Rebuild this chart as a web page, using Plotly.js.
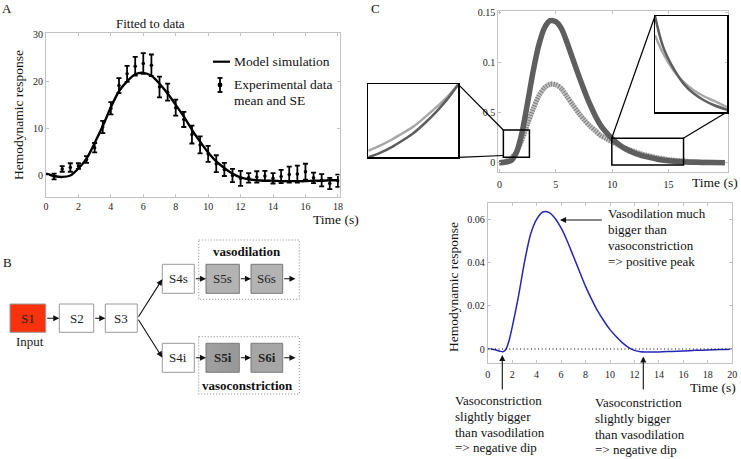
<!DOCTYPE html>
<html><head><meta charset="utf-8">
<script src="https://cdn.plot.ly/plotly-3.0.1.min.js"></script>
<style>html,body{margin:0;padding:0;background:#fff}#chart{width:741px;height:459px}</style>
</head><body><div id="chart"></div>
<script>
// ---------- Panel A: fitted to data ----------
const timeA = [0.5,1,1.5,2,2.5,3,3.5,4,4.5,5,5.5,6,6.5,7,7.5,8,8.5,9,9.5,10,10.5,11,11.5,12,12.5,13,13.5,14,14.5,15,15.5,16,16.5,17,17.5,18];
const expMean = [-0.2,1.4,1.7,2.0,3.4,5.9,10.3,14.3,19.1,21.6,23.2,23.8,23.4,18.8,17.7,14.4,11.9,8.7,6.5,4.6,2.5,1.3,0.0,-0.6,-0.5,-0.3,-0.1,-0.6,-0.2,0.2,0.3,0.8,-0.5,-1.0,-1.7,-1.1];
const expSE = [0.6,0.6,0.9,0.6,0.7,1.0,1.3,1.3,1.6,1.7,2.0,2.2,2.3,2.2,1.8,1.7,1.6,1.9,1.8,1.7,1.8,1.4,1.4,1.6,1.0,1.2,1.1,1.1,1.4,1.7,1.8,1.7,1.1,1.3,1.2,1.3];
const modelT = [0,0.5,1,1.5,2,2.5,3,3.5,4,4.5,5,5.5,6,6.5,7,7.5,8,8.5,9,9.5,10,10.5,11,11.5,12,12.5,13,13.5,14,14.5,15,15.5,16,16.5,17,17.5,18];
const modelY = [0.4,-0.1,-0.3,0.0,1.5,3.6,6.9,10.5,14.5,17.9,20.0,21.5,21.8,21.2,19.5,17.4,15.0,12.5,9.7,7.2,4.9,3.0,1.6,0.4,-0.4,-0.8,-1.0,-1.1,-1.1,-1.2,-1.2,-1.2,-1.2,-1.1,-1.1,-1.0,-1.0];
const ticksA_x = [0,2,4,6,8,10,12,14,16,18];
const ticksA_y = [0,10,20,30];

// ---------- Panel C (top): vasodilation vs vasoconstriction ----------
const timeC = [0,0.5,1,1.5,2,2.5,3,3.5,4,4.5,5,5.5,6,6.5,7,7.5,8,8.5,9,9.5,10,10.5,11,11.5,12,12.5,13,14,15,16,17,18,19,20];
const dilation = [0,0.0005,0.002,0.010,0.030,0.060,0.092,0.118,0.135,0.142,0.141,0.134,0.120,0.104,0.088,0.073,0.059,0.047,0.037,0.030,0.024,0.019,0.015,0.012,0.0095,0.0075,0.006,0.0035,0.002,0.001,0.0005,0.0002,0.0001,0];
const constriction = [0,0.001,0.004,0.011,0.023,0.039,0.054,0.067,0.075,0.0785,0.078,0.074,0.066,0.058,0.050,0.043,0.037,0.032,0.027,0.024,0.021,0.018,0.015,0.013,0.011,0.009,0.0075,0.005,0.003,0.002,0.001,0.0005,0.0002,0.0001];
const ticksCtop_x = [0,5,10,15];
const ticksCtop_y = [0,0.05,0.1,0.15];
const ticksCtop_ytext = ['0','0.5','0.1','0.15'];

// insets (normalised zoom views)
const insetL_x = [0,0.13,0.26,0.38,0.5,0.63,0.76,0.88,1];
const insetL_dil = [0,0.06,0.14,0.23,0.33,0.47,0.63,0.8,1];
const insetL_con = [0.09,0.16,0.24,0.33,0.42,0.55,0.69,0.83,1];
const insetR_x = [0,0.113,0.255,0.396,0.538,0.679,0.821,1];
const insetR_dil = [1,0.679,0.456,0.296,0.192,0.122,0.07,0.024];
const insetR_con = [0.8,0.61,0.436,0.314,0.226,0.164,0.115,0.052];

// ---------- Panel C (bottom): net hemodynamic response ----------
const diffT = [0,0.5,1,1.25,1.5,1.75,2,2.5,3,3.5,4,4.5,5,5.5,6,6.5,7,7.5,8,8.5,9,9.5,10,10.5,11,11.5,12,12.5,13,14,15,16,17,18,19,20];
const diffY = [0,-0.0002,-0.0010,-0.0012,0.0,0.004,0.010,0.024,0.040,0.053,0.060,0.0634,0.0632,0.0605,0.056,0.050,0.043,0.036,0.029,0.023,0.0175,0.013,0.009,0.0058,0.003,0.0008,-0.0006,-0.0012,-0.0013,-0.0013,-0.0011,-0.0009,-0.0006,-0.0004,-0.0002,-0.0001];
const ticksCbot_x = [0,2,4,6,8,10,12,14,16,18,20];
const ticksCbot_y = [0,0.02,0.04,0.06];

// ---------- Panel B: model diagram labels ----------
const stageLabels = ['S1','S2','S3','S4s','S5s','S6s','S4i','S5i','S6i'];

// ---------- helpers ----------
const W = 741, H = 459;
const P = x => x / W;
const Q = y => 1 - y / H;
const SERIF = "'Liberation Serif', 'Times New Roman', Times, serif";
const FRAME = '#c2c2c2';

function axisStyle(extra) {
  return Object.assign({
    showline: true, linecolor: FRAME, linewidth: 1, mirror: 'ticks',
    ticks: 'inside', ticklen: 3, tickcolor: FRAME, tickwidth: 1,
    showgrid: false, zeroline: false,
    tickfont: {family: SERIF, size: 10, color: '#222'}
  }, extra);
}
function insetAxis(extra) {
  return Object.assign({
    showline: true, linecolor: '#000', linewidth: 1.5, mirror: true,
    ticks: '', showticklabels: false, showgrid: false, zeroline: false,
    range: [0, 1], fixedrange: true
  }, extra);
}

const traces = [
  // Panel A
  {x: modelT, y: modelY, xaxis: 'x', yaxis: 'y', mode: 'lines', type: 'scatter',
   line: {color: '#000', width: 2.4, shape: 'spline', smoothing: 0.8}, hoverinfo: 'skip'},
  {x: timeA, y: expMean, xaxis: 'x', yaxis: 'y', mode: 'markers', type: 'scatter',
   marker: {color: '#000', size: 3.5},
   error_y: {type: 'data', array: expSE, visible: true, color: '#000', thickness: 1.8, width: 2.5}},
  // Panel C top
  {x: timeC, y: constriction, xaxis: 'x2', yaxis: 'y2', mode: 'lines', type: 'scatter',
   line: {color: '#c4c4c4', width: 5, shape: 'spline', smoothing: 0.8}},
  {x: timeC, y: constriction, xaxis: 'x2', yaxis: 'y2', mode: 'lines', type: 'scatter',
   line: {color: '#7a7a7a', width: 5, shape: 'spline', smoothing: 0.8, dash: '1px,1.6px'}},
  {x: timeC, y: dilation, xaxis: 'x2', yaxis: 'y2', mode: 'lines', type: 'scatter',
   line: {color: '#5e5e5e', width: 5.5, shape: 'spline', smoothing: 0.8}},
  // left inset
  {x: insetL_x, y: insetL_con, xaxis: 'x4', yaxis: 'y4', mode: 'lines', type: 'scatter',
   line: {color: '#a8a8a8', width: 2.5, shape: 'spline'}},
  {x: insetL_x, y: insetL_dil, xaxis: 'x4', yaxis: 'y4', mode: 'lines', type: 'scatter',
   line: {color: '#5e5e5e', width: 2.5, shape: 'spline'}},
  // right inset
  {x: insetR_x, y: insetR_con, xaxis: 'x5', yaxis: 'y5', mode: 'lines', type: 'scatter',
   line: {color: '#a8a8a8', width: 2.5, shape: 'spline'}},
  {x: insetR_x, y: insetR_dil, xaxis: 'x5', yaxis: 'y5', mode: 'lines', type: 'scatter',
   line: {color: '#5e5e5e', width: 2.5, shape: 'spline'}},
  // Panel C bottom
  {x: diffT, y: diffY, xaxis: 'x3', yaxis: 'y3', mode: 'lines', type: 'scatter',
   line: {color: '#2626b4', width: 1.5, shape: 'spline', smoothing: 0.7}}
];

const shapes = [];
const annotations = [];
const images = [];

function pline(x0, y0, x1, y1, color, width, dash) {
  shapes.push({type: 'line', xref: 'paper', yref: 'paper', x0: P(x0), y0: Q(y0), x1: P(x1), y1: Q(y1),
    line: {color: color || '#000', width: width || 1, dash: dash || 'solid'}});
}
function prect(x0, y0, x1, y1, fill, lineColor, width, dash) {
  shapes.push({type: 'rect', xref: 'paper', yref: 'paper', x0: P(x0), y0: Q(y0), x1: P(x1), y1: Q(y1),
    fillcolor: fill || 'rgba(0,0,0,0)', line: {color: lineColor || '#999', width: width === undefined ? 1 : width, dash: dash || 'solid'}});
}
function text(t, x, y, opts) {
  opts = opts || {};
  annotations.push({text: t, xref: 'paper', yref: 'paper', x: P(x), y: Q(y),
    xanchor: opts.xanchor || 'center', yanchor: opts.yanchor || 'middle', showarrow: false,
    textangle: opts.angle || 0,
    font: {family: SERIF, size: opts.size || 13, color: opts.color || '#111'}});
}
function arrow(tailx, taily, tipx, tipy) {
  annotations.push({text: '', xref: 'paper', yref: 'paper', x: P(tipx), y: Q(tipy),
    axref: 'pixel', ayref: 'pixel', ax: tailx - tipx, ay: taily - tipy,
    showarrow: true, arrowhead: 2, arrowsize: 1.1, arrowwidth: 1.1, arrowcolor: '#111', standoff: 0});
}

// panel letters
text('A', 7, 8, {size: 13});
text('B', 7, 262, {size: 13});
text('C', 375, 8, {size: 13});

// Panel A texts
text('Fitted to data', 150, 23, {size: 13});
text('Hemodynamic response', 19, 115, {size: 13.5, angle: -90});
text('Time (s)', 336, 219.5, {size: 13.5});
// legend
pline(213, 61.7, 230, 61.7, '#000', 2.2);
text('Model simulation', 232, 61.7, {xanchor: 'left', size: 13.5});
pline(220, 78, 220, 92, '#000', 1.8);
pline(217.5, 78, 222.5, 78, '#000', 1.8);
pline(217.5, 92, 222.5, 92, '#000', 1.8);
shapes.push({type: 'circle', xref: 'paper', yref: 'paper', x0: P(217.6), x1: P(222.4), y0: Q(87.4), y1: Q(82.6),
  fillcolor: '#000', line: {color: '#000', width: 0}});
text('Experimental data', 232, 85, {xanchor: 'left', size: 13.5});
text('mean and SE', 232, 100, {xanchor: 'left', size: 13.5});

// Panel B diagram
const rowTop = [304, 332.3], rowS = [264.3, 293.3], rowI = [343.3, 372.3];
prect(10, rowTop[0], 45.7, rowTop[1], '#f8320c', '#9a9a9a');
prect(59.3, rowTop[0], 93.7, rowTop[1], '#fff', '#9a9a9a');
prect(105.3, rowTop[0], 137.3, rowTop[1], '#fff', '#9a9a9a');
prect(162.3, rowS[0], 194.3, rowS[1], '#fff', '#9a9a9a');
prect(206, rowS[0], 239.3, rowS[1], '#b3b3b3', '#777');
prect(251, rowS[0], 282.7, rowS[1], '#b3b3b3', '#777');
prect(162.3, rowI[0], 194.3, rowI[1], '#fff', '#9a9a9a');
const hatch = "data:image/svg+xml;utf8," + encodeURIComponent(
  "<svg xmlns='http://www.w3.org/2000/svg' width='66' height='58' viewBox='0 0 66 58'>" +
  "<defs><pattern id='p' width='2' height='2' patternUnits='userSpaceOnUse'>" +
  "<rect width='2' height='2' fill='#c6c6c6'/><rect width='1' height='1' fill='#6a6a6a'/>" +
  "<rect x='1' y='1' width='1' height='1' fill='#8c8c8c'/></pattern></defs>" +
  "<rect width='66' height='58' fill='url(#p)'/></svg>");
[[206, 239.3], [251, 282.7]].forEach(([a, b]) => {
  images.push({source: hatch, xref: 'paper', yref: 'paper', x: P(a), y: Q(rowI[0]),
    sizex: P(b) - P(a), sizey: Q(rowI[0]) - Q(rowI[1]), xanchor: 'left', yanchor: 'top',
    sizing: 'stretch', layer: 'above'});
  prect(a, rowI[0], b, rowI[1], 'rgba(0,0,0,0)', '#777');
});
prect(198.7, 240, 299.3, 299.3, 'rgba(0,0,0,0)', '#777', 0.9, '1px,2px');
prect(198.7, 336.7, 299.3, 394, 'rgba(0,0,0,0)', '#777', 0.9, '1px,2px');

const labelPos = [[27.8, 318.2], [76.5, 318.2], [121.3, 318.2], [178.3, 278.8], [222.6, 278.8], [266.8, 278.8],
                  [178.3, 357.8], [222.6, 357.8], [266.8, 357.8]];
stageLabels.forEach((s, i) => {
  const bold = (s === 'S5i' || s === 'S6i');
  text(bold ? '<b>' + s + '</b>' : s, labelPos[i][0], labelPos[i][1], {size: 13, color: '#222'});
});
text('Input', 30, 341, {size: 13, color: '#222'});
text('<b>vasodilation</b>', 247, 251.7, {size: 13});
text('<b>vasoconstriction</b>', 247, 385.7, {size: 13});

arrow(45.7, 318.2, 59.3, 318.2);
arrow(93.7, 318.2, 105.3, 318.2);
arrow(137.5, 318.2, 162.3, 279.3);
arrow(137.5, 318.2, 162.3, 357.5);
arrow(194.3, 278.8, 206, 278.8);
arrow(239.3, 278.8, 251, 278.8);
arrow(282.7, 278.8, 295.5, 278.8);
arrow(194.3, 357.8, 206, 357.8);
arrow(239.3, 357.8, 251, 357.8);
arrow(282.7, 357.8, 295.5, 357.8);

// Panel C top: zoom boxes and connectors
shapes.push({type: 'rect', xref: 'x2', yref: 'y2', x0: 0.35, x1: 2.66, y0: 0.0054, y1: 0.0327,
  line: {color: '#000', width: 1.5}, fillcolor: 'rgba(0,0,0,0)'});
shapes.push({type: 'rect', xref: 'x2', yref: 'y2', x0: 9.97, x1: 16.33, y0: -0.0023, y1: 0.0244,
  line: {color: '#000', width: 1.5}, fillcolor: 'rgba(0,0,0,0)'});
pline(458.3, 84.3, 503.3, 130, '#000', 1.2);
pline(458.3, 157.3, 503.3, 155.5, '#000', 1.2);
pline(655, 16, 611.7, 138.3, '#000', 1.2);
pline(727, 112, 683.3, 138.3, '#000', 1.2);
text('Time (s)', 715, 182, {size: 13.5});

// Panel C bottom
shapes.push({type: 'line', xref: 'x3', yref: 'y3', x0: 0, x1: 20, y0: 0, y1: 0,
  line: {color: '#000', width: 1.1, dash: '1px,2.6px'}});
text('Hemodynamic response', 453, 287, {size: 13.5, angle: -90});
text('Time (s)', 713, 387, {size: 13.5});
const tr = ['Vasodilation much', 'bigger than', 'vasoconstriction', '=> positive peak'];
[213.3, 229.3, 245.3, 261.7].forEach((y, i) => text(tr[i], 606, y, {xanchor: 'left', size: 13}));
const bl = ['Vasoconstriction', 'slightly bigger', 'than vasodilation', '=> negative dip'];
[400.7, 416.5, 432.3, 447.8].forEach((y, i) => text(bl[i], 452.5, y, {xanchor: 'left', size: 13}));
[402.7, 418.5, 434.3, 449.8].forEach((y, i) => text(bl[i], 593, y, {xanchor: 'left', size: 13}));
arrow(603.3, 220, 560, 220);
arrow(502.3, 391, 502.3, 355);
arrow(643.3, 391, 643.3, 356.5);

const layout = {
  width: W, height: H, margin: {l: 0, r: 0, t: 0, b: 0},
  paper_bgcolor: '#fff', plot_bgcolor: 'rgba(0,0,0,0)', showlegend: false,
  font: {family: SERIF, color: '#111'},
  xaxis: axisStyle({domain: [P(46), P(339.5)], range: [0, 18.1], tickvals: ticksA_x, anchor: 'y', ticklabelstandoff: 0}),
  yaxis: axisStyle({domain: [Q(196.7), Q(33.3)], range: [-4.5, 30.2], tickvals: ticksA_y, anchor: 'x'}),
  xaxis2: axisStyle({domain: [P(498.3), P(728.3)], range: [-0.1, 20.3], tickvals: ticksCtop_x, anchor: 'y2', ticklabelstandoff: 3}),
  yaxis2: axisStyle({domain: [Q(171.7), Q(11)], range: [-0.009, 0.1517], tickvals: ticksCtop_y, ticktext: ticksCtop_ytext, anchor: 'x2'}),
  xaxis3: axisStyle({domain: [P(487.7), P(732.3)], range: [0, 20], tickvals: ticksCbot_x, anchor: 'y3', ticklabelstandoff: 2}),
  yaxis3: axisStyle({domain: [Q(362.7), Q(203.3)], range: [-0.0063, 0.0674], tickvals: ticksCbot_y, anchor: 'x3'}),
  xaxis4: insetAxis({domain: [P(368.3), P(458.3)], anchor: 'y4'}),
  yaxis4: insetAxis({domain: [Q(157.3), Q(84.3)], anchor: 'x4'}),
  xaxis5: insetAxis({domain: [P(655), P(727)], anchor: 'y5'}),
  yaxis5: insetAxis({domain: [Q(112), Q(16)], anchor: 'x5'}),
  shapes: shapes, annotations: annotations, images: images
};

Plotly.newPlot('chart', traces, layout, {displayModeBar: false, staticPlot: true});
</script></body></html>
